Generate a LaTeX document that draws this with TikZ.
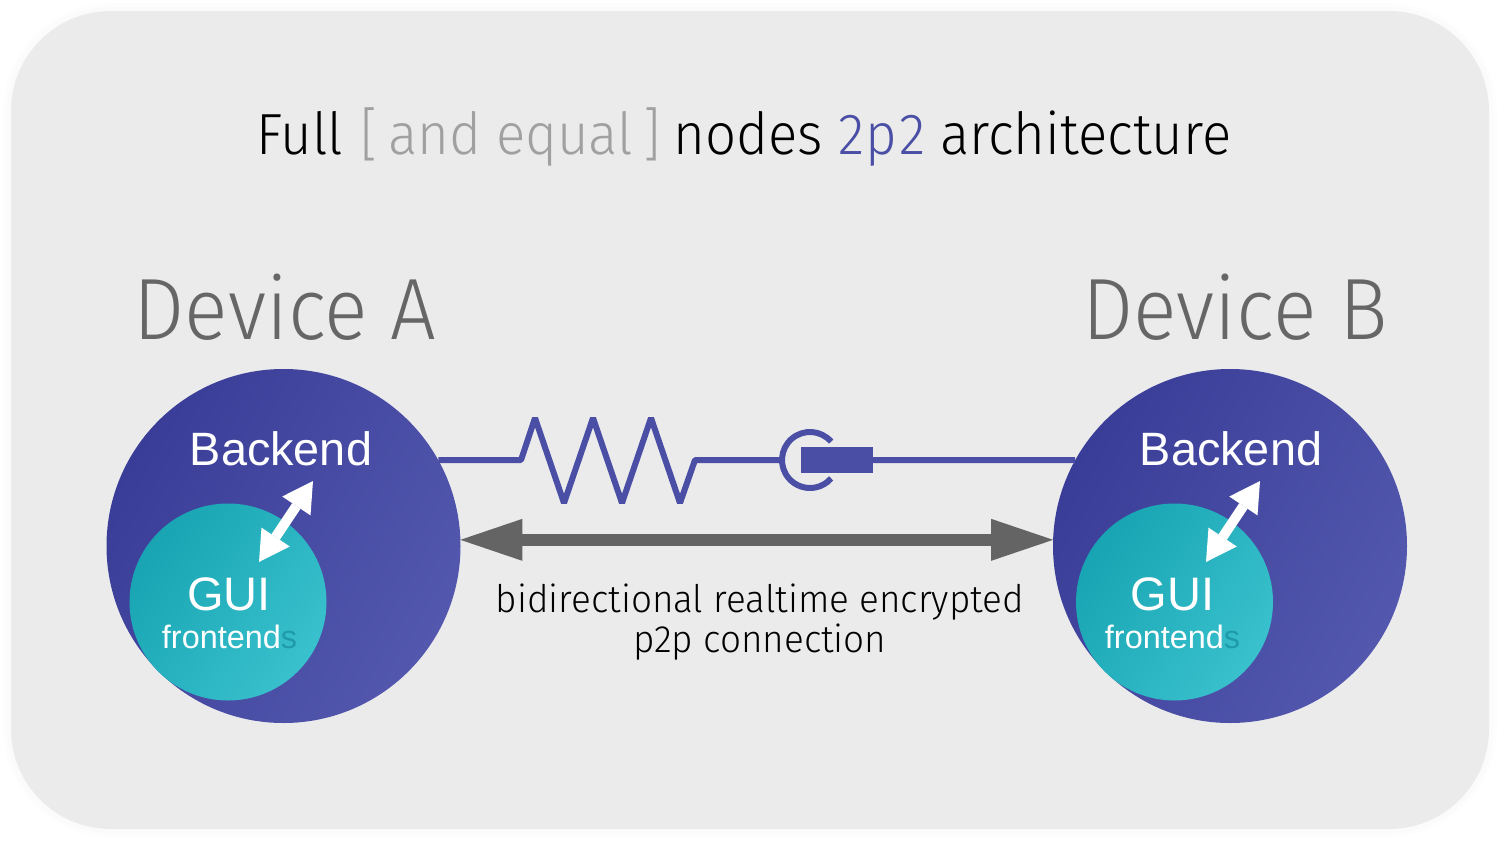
\documentclass[tikz,border=0pt]{standalone}
\usepackage{fontspec}
\usetikzlibrary{arrows.meta,calc}
\setmainfont{Liberation Sans}
\newfontfamily\titlefont[UprightFont=* Light,FakeStretch=0.94]{Fira Sans}
\newfontfamily\devfont[UprightFont=* Light,FakeStretch=0.93]{Fira Sans}
\newfontfamily\confont[UprightFont=* Light,FakeStretch=0.97]{Fira Sans}
\definecolor{panel}{HTML}{EBEBEB}
\definecolor{wire}{HTML}{4A4FA5}
\definecolor{darkgrey}{HTML}{646464}
\definecolor{label}{HTML}{666666}
\definecolor{mutedgrey}{HTML}{A0A0A0}
\definecolor{bluedark}{HTML}{3A3D97}
\definecolor{bluelight}{HTML}{5358AE}
\definecolor{tealdark}{HTML}{18A4B2}
\definecolor{teallight}{HTML}{39C1CD}
\definecolor{tealtext}{HTML}{1F9BA9}
\tikzset{
  x=0.5pt,y=-0.5pt,
  backend/.style={circle,inner sep=0pt,outer sep=0pt,minimum size=177pt,draw=none,
    left color=bluedark,right color=bluelight,shading angle=60},
  gui/.style={circle,inner sep=0pt,outer sep=0pt,minimum size=98.5pt,draw=none,
    left color=tealdark,right color=teallight,shading angle=55},
  wireline/.style={draw=wire,line width=3pt,miter limit=1},
  bigarrow/.style={draw=darkgrey,line width=6pt,{Triangle[length=31pt,width=21pt,line width=0pt]}-{Triangle[length=31pt,width=21pt,line width=0pt]}},
  whitearrow/.style={draw=white,line width=5pt,{Triangle[length=15pt,width=17pt,line width=0pt]}-{Triangle[length=15pt,width=17pt,line width=0pt]}},
  backlabel/.style={text=white,font=\fontsize{23.4}{26}\selectfont,inner sep=0pt,anchor=base},
  guilabel/.style={text=white,font=\fontsize{23.5}{26}\selectfont,inner sep=0pt,anchor=base},
  frontlabel/.style={text=white,font=\fontsize{16.2}{18}\selectfont,inner sep=0pt,anchor=base},
  devlabel/.style={text=label,font=\devfont\fontsize{43.5}{50}\selectfont,inner sep=0pt,anchor=base},
  titlelabel/.style={font=\titlefont\fontsize{29}{36}\selectfont,inner sep=0pt,anchor=base},
  conlabel/.style={font=\confont\fontsize{19}{24}\selectfont,inner sep=0pt,anchor=base}
}
\begin{document}
\begin{tikzpicture}
\useasboundingbox (0,0) rectangle (1500,841);
\fill[white] (0,0) rectangle (1500,841);
% soft halo and panel
\fill[panel,opacity=0.05,rounded corners=55pt] (3,3) rectangle (1497,837);
\fill[panel,opacity=0.08,rounded corners=52pt] (7,7) rectangle (1493,833);
\fill[panel,rounded corners=50pt] (11,11) rectangle (1489,829);

\node[titlelabel] (title) at (744,154) {Full\kern1pt\ {\color{mutedgrey}[\kern-2.5pt\ and equal\kern-2.5pt\ ]}\kern-1pt\ nodes {\color{wire}2\kern.7pt p\kern.7pt 2} architecture};
\node[devlabel] (devAlabel) at (285,339) {Device A};
\node[devlabel] (devBlabel) at (1235,339) {Device B};

\coordinate (r1) at (521,460);
\coordinate (r2) at (535,418);
\coordinate (r3) at (564,503);
\coordinate (r4) at (593,418);
\coordinate (r5) at (622,503);
\coordinate (r6) at (651,418);
\coordinate (r7) at (680,503);
\coordinate (r8) at (695,460);
\node[circle,inner sep=0pt,outer sep=0pt,minimum size=28pt] (cup) at (810,460) {};
\node[inner sep=0pt,outer sep=0pt,minimum width=36pt,minimum height=13pt,fill=wire] (plug) at (837,460) {};

\node[backend] (devA) at (283.5,546) {};
\node[backend] (devB) at (1230,546) {};

\draw[wireline] (devA.29) -- (r1) -- (r2) -- (r3) -- (r4) -- (r5) -- (r6) -- (r7) -- (r8) -- (cup.west);
\draw[wireline] (plug.east) -- (devB.151);
\draw[wireline] (cup.41) arc[start angle=41,end angle=319,radius=14pt];

\draw[bigarrow] (devA.2) -- (devB.178);

\node[gui] (guiA) at (228,602) {};
\node[gui] (guiB) at (1174.5,602) {};

\node[backlabel] (backA) at (281,465) {Backend};
\node[backlabel] (backB) at (1231,465) {Backend};
\node[guilabel] (guiTextA) at (229,610) {GUI};
\node[guilabel] (guiTextB) at (1172.5,610) {GUI};
\node[frontlabel] (frontA) at (229.5,648) {frontend{\color{tealtext}s}};
\node[frontlabel] (frontB) at (1172.5,648) {frontend{\color{tealtext}s}};

\coordinate (aTop) at (313,481);
\coordinate (aBot) at (259,562);
\coordinate (bTop) at (1260,481);
\coordinate (bBot) at (1206,562);
\draw[whitearrow] (aTop) -- (aBot);
\draw[whitearrow] (bTop) -- (bBot);

\node[conlabel] (con1) at (760,612) {bidirectional realtime encrypted};
\node[conlabel] (con2) at (760,652) {p2p connection};
\end{tikzpicture}
\end{document}
